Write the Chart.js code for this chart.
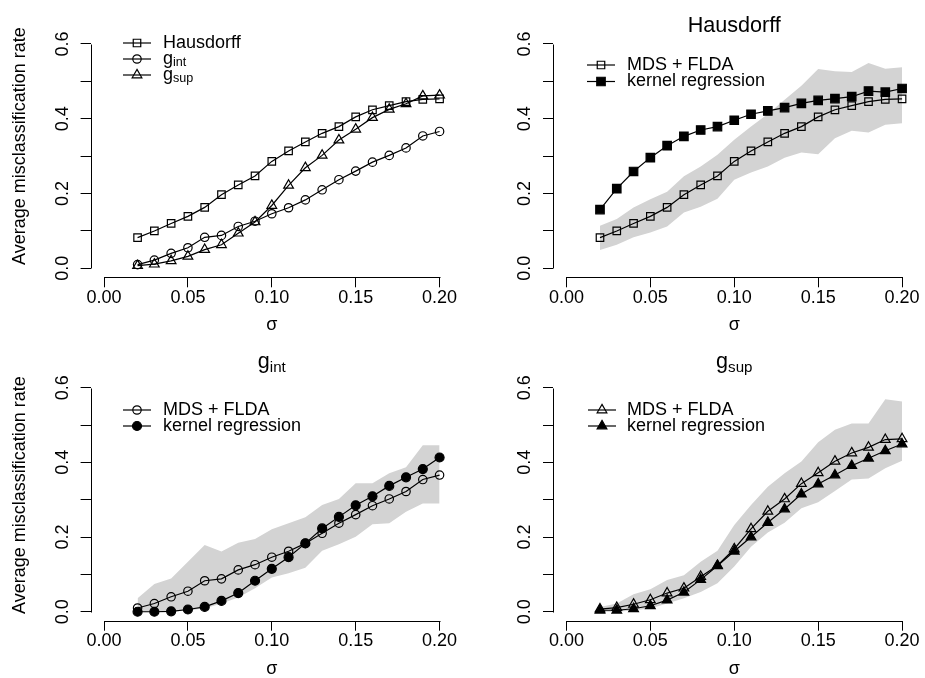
<!DOCTYPE html>
<html>
<head>
<meta charset="utf-8">
<script src="https://cdn.jsdelivr.net/npm/chart.js@4.4.0/dist/chart.umd.min.js"></script>
<style>
  body { margin: 0; background: #fff; }
  #wrap { position: relative; width: 925px; height: 678px; background: #fff; }
  #wrap canvas { position: absolute; }
</style>
</head>
<body>
<div id="wrap">
  <canvas id="p1" width="462" height="339" style="left:0px;top:0px"></canvas>
  <canvas id="p2" width="463" height="339" style="left:462px;top:0px"></canvas>
  <canvas id="p3" width="462" height="339" style="left:0px;top:339px"></canvas>
  <canvas id="p4" width="463" height="339" style="left:462px;top:339px"></canvas>
</div>
<script>
// values
const sigma = [0.02, 0.03, 0.04, 0.05, 0.06, 0.07, 0.08, 0.09, 0.10, 0.11,
               0.12, 0.13, 0.14, 0.15, 0.16, 0.17, 0.18, 0.19, 0.20];

const hausdorffFlda = [0.082, 0.100, 0.120, 0.139, 0.163, 0.197, 0.223, 0.247, 0.286, 0.314,
                       0.338, 0.361, 0.379, 0.405, 0.424, 0.435, 0.446, 0.452, 0.453];
const gIntFlda = [0.010, 0.022, 0.040, 0.055, 0.083, 0.088, 0.112, 0.126, 0.146, 0.162,
                  0.183, 0.210, 0.237, 0.260, 0.284, 0.302, 0.322, 0.354, 0.366];
const gSupFlda = [0.007, 0.011, 0.020, 0.032, 0.050, 0.063, 0.094, 0.124, 0.168, 0.222,
                  0.269, 0.302, 0.343, 0.372, 0.403, 0.425, 0.440, 0.461, 0.463];

const hausdorffKernel = [0.157, 0.213, 0.259, 0.296, 0.328, 0.353, 0.370, 0.379, 0.396, 0.412,
                         0.421, 0.430, 0.441, 0.449, 0.454, 0.459, 0.474, 0.471, 0.481];
const gIntKernel = [0.000, 0.000, 0.001, 0.006, 0.013, 0.029, 0.050, 0.083, 0.115, 0.146,
                    0.183, 0.223, 0.254, 0.285, 0.309, 0.337, 0.360, 0.382, 0.413];
const gSupKernel = [0.004, 0.004, 0.008, 0.016, 0.031, 0.052, 0.086, 0.123, 0.162, 0.200,
                    0.239, 0.275, 0.315, 0.342, 0.366, 0.391, 0.411, 0.431, 0.449];

// grey bands
const hausUpper = [0.114, 0.132, 0.163, 0.185, 0.205, 0.246, 0.272, 0.304, 0.344, 0.379,
                   0.413, 0.451, 0.488, 0.533, 0.527, 0.525, 0.549, 0.534, 0.538];
const hausLower = [0.049, 0.063, 0.083, 0.096, 0.112, 0.149, 0.165, 0.186, 0.237, 0.256,
                   0.272, 0.296, 0.310, 0.305, 0.348, 0.368, 0.363, 0.384, 0.388];
const gIntUpper = [0.036, 0.074, 0.089, 0.134, 0.179, 0.161, 0.185, 0.195, 0.221, 0.237,
                   0.253, 0.286, 0.302, 0.344, 0.344, 0.371, 0.387, 0.446, 0.446];
const gIntLower = [0.000, 0.000, 0.000, 0.003, 0.009, 0.022, 0.038, 0.063, 0.092, 0.103,
                   0.118, 0.163, 0.181, 0.201, 0.234, 0.237, 0.268, 0.290, 0.290];
const gSupUpper = [0.013, 0.022, 0.047, 0.060, 0.085, 0.098, 0.134, 0.163, 0.232, 0.286,
                   0.335, 0.371, 0.402, 0.454, 0.487, 0.504, 0.504, 0.569, 0.563];
const gSupLower = [0.000, 0.000, 0.003, 0.009, 0.022, 0.036, 0.053, 0.076, 0.121, 0.174,
                   0.212, 0.238, 0.277, 0.293, 0.323, 0.354, 0.357, 0.384, 0.404];

const xTicks = [0, 0.05, 0.10, 0.15, 0.20];
const xTickLabels = ['0.00', '0.05', '0.10', '0.15', '0.20'];
const yTicks = [0, 0.1, 0.2, 0.3, 0.4, 0.5, 0.6];
const yTickLabels = ['0.0', '', '0.2', '', '0.4', '', '0.6'];

const yTitle = 'Average misclassification rate';
const xTitle = 'σ';

const FONT = '"Liberation Sans", Arial, Helvetica, sans-serif';
const BAND = '#d3d3d3';

Chart.defaults.font.family = FONT;
Chart.defaults.color = '#000';

const markers = {
  openSquare:   { pointStyle: 'rect', radius: 5.3, filled: false },
  fillSquare:   { pointStyle: 'rect', radius: 6.0, filled: true },
  openCircle:   { pointStyle: 'circle', radius: 4.2, filled: false },
  fillCircle:   { pointStyle: 'circle', radius: 4.5, filled: true },
  openTriangle: { pointStyle: 'triangle', radius: 5.6, filled: false },
  fillTriangle: { pointStyle: 'triangle', radius: 5.6, filled: true }
};

function toPoints(vals) {
  return sigma.map((s, i) => ({ x: s, y: vals[i] }));
}

function lineSet(label, vals, mk) {
  const m = markers[mk];
  return {
    label: label,
    data: toPoints(vals),
    borderColor: '#000',
    borderWidth: 1.2,
    pointStyle: m.pointStyle,
    pointRadius: m.radius,
    pointBorderColor: '#000',
    pointBorderWidth: 1.2,
    pointBackgroundColor: m.filled ? '#000' : 'rgba(0,0,0,0)',
    tension: 0,
    fill: false,
    order: 0,
    mk: mk
  };
}

function bandSets(upper, lower) {
  return [
    { label: 'upper', data: toPoints(upper), borderWidth: 0, borderColor: 'rgba(0,0,0,0)',
      pointRadius: 0, fill: false, order: 5, band: true },
    { label: 'lower', data: toPoints(lower), borderWidth: 0, borderColor: 'rgba(0,0,0,0)',
      pointRadius: 0, fill: '-1', backgroundColor: BAND, order: 5, band: true }
  ];
}

function setFont(ctx, size) {
  ctx.font = size + 'px ' + FONT;
}

// text with an optional subscript, e.g. {base: 'g', sub: 'int'}
function labelWidth(ctx, item, size) {
  if (typeof item === 'string') { setFont(ctx, size); return ctx.measureText(item).width; }
  setFont(ctx, size);
  let w = ctx.measureText(item.base).width;
  setFont(ctx, size * 0.7);
  return w + ctx.measureText(item.sub).width;
}

function drawText(ctx, item, x, y, size) {
  ctx.fillStyle = '#000';
  ctx.textAlign = 'left';
  if (typeof item === 'string') {
    setFont(ctx, size);
    ctx.fillText(item, x, y);
    return;
  }
  setFont(ctx, size);
  ctx.fillText(item.base, x, y);
  const w = ctx.measureText(item.base).width;
  setFont(ctx, size * 0.7);
  ctx.fillText(item.sub, x + w, y + size * 0.2);
}

const decor = {
  id: 'decor',
  afterDraw(chart) {
    const p = chart.options.plugins.decor;
    const ctx = chart.ctx;
    const xs = chart.scales.x, ys = chart.scales.y, a = chart.chartArea;
    ctx.save();
    ctx.strokeStyle = '#000';
    ctx.lineWidth = 1;

    // axis lines from first to last tick, as R does without a box
    const yb = Math.round(a.bottom) + 0.5;
    ctx.beginPath();
    ctx.moveTo(Math.round(xs.getPixelForValue(xTicks[0])) + 0.5, yb);
    ctx.lineTo(Math.round(xs.getPixelForValue(xTicks[xTicks.length - 1])) + 0.5, yb);
    ctx.stroke();
    const xl = Math.round(a.left) + 0.5;
    ctx.beginPath();
    ctx.moveTo(xl, Math.round(ys.getPixelForValue(yTicks[0])) + 0.5);
    ctx.lineTo(xl, Math.round(ys.getPixelForValue(yTicks[yTicks.length - 1])) + 0.5);
    ctx.stroke();

    // rotated y tick labels
    ctx.fillStyle = '#000';
    setFont(ctx, 18);
    ctx.textAlign = 'center';
    ctx.textBaseline = 'middle';
    yTicks.forEach((v, i) => {
      if (!yTickLabels[i]) return;
      ctx.save();
      ctx.translate(a.left - 28, ys.getPixelForValue(v));
      ctx.rotate(-Math.PI / 2);
      ctx.fillText(yTickLabels[i], 0, 0);
      ctx.restore();
    });

    // x title
    ctx.textAlign = 'center';
    ctx.fillText(xTitle, (a.left + a.right) / 2, a.bottom + 48);

    // y title
    if (p.yTitleY) {
      ctx.save();
      ctx.translate(20, p.yTitleY);
      ctx.rotate(-Math.PI / 2);
      ctx.textAlign = 'center';
      ctx.fillText(yTitle, 0, 0);
      ctx.restore();
    }

    // main title
    if (p.title) {
      ctx.textBaseline = 'alphabetic';
      const w = labelWidth(ctx, p.title, 21.6);
      drawText(ctx, p.title, (a.left + a.right) / 2 - w / 2, p.titleY, 21.6);
    }

    // legend: line through symbol, then text
    const sets = chart.data.datasets.filter(d => !d.band);
    sets.forEach((d, i) => {
      const y = p.legendY[i];
      const x = p.legendX;
      const m = markers[d.mk];
      ctx.strokeStyle = '#000';
      ctx.lineWidth = 1.2;
      ctx.beginPath();
      ctx.moveTo(x - 14, y);
      ctx.lineTo(x + 14, y);
      ctx.stroke();
      ctx.fillStyle = m.filled ? '#000' : 'rgba(0,0,0,0)';
      Chart.helpers.drawPoint(ctx, {
        pointStyle: m.pointStyle, radius: m.radius, rotation: 0, borderWidth: 1.2
      }, x, y);
      ctx.textBaseline = 'middle';
      drawText(ctx, p.legendText[i], p.legendTextX, y, 18);
    });
    ctx.restore();
  }
};

function makePanel(id, datasets, lay) {
  const canvas = document.getElementById(id);
  const W = canvas.width, H = canvas.height;
  return new Chart(canvas, {
    type: 'line',
    data: { datasets: datasets },
    options: {
      responsive: false,
      animation: false,
      layout: { padding: { left: 0, top: lay.area.top, right: W - lay.area.right, bottom: 0 } },
      scales: {
        x: {
          type: 'linear',
          min: -0.008,
          max: 0.208,
          afterBuildTicks: s => { s.ticks = xTicks.map(v => ({ value: v })); },
          afterFit: s => { s.height = H - lay.area.bottom; s.paddingLeft = 0; s.paddingRight = 0; },
          grid: { display: true, drawOnChartArea: false, drawTicks: true, tickLength: 10, color: '#000', lineWidth: 1 },
          border: { display: false },
          ticks: {
            autoSkip: false, maxRotation: 0, minRotation: 0, padding: 0,
            font: { size: 18 }, color: '#000',
            callback: (v, i) => xTickLabels[i]
          }
        },
        y: {
          type: 'linear',
          min: -0.024,
          max: 0.624,
          afterBuildTicks: s => { s.ticks = yTicks.map(v => ({ value: v })); },
          afterFit: s => { s.width = lay.area.left; s.paddingTop = 0; s.paddingBottom = 0; },
          grid: { display: true, drawOnChartArea: false, drawTicks: true, tickLength: 10, color: '#000', lineWidth: 1 },
          border: { display: false },
          ticks: { display: false }
        }
      },
      plugins: {
        legend: { display: false },
        tooltip: { enabled: false },
        filler: { propagate: false },
        decor: lay
      }
    },
    plugins: [decor]
  });
}

const topArea = { left: 90.6, right: 453, top: 35, bottom: 277.3 };
const topAreaR = { left: 91, right: 453.5, top: 35, bottom: 277.3 };
const botArea = { left: 90.6, right: 453, top: 39.7, bottom: 281.7 };
const botAreaR = { left: 91, right: 453.5, top: 39.7, bottom: 281.7 };

makePanel('p1', [
  lineSet('Hausdorff', hausdorffFlda, 'openSquare'),
  lineSet('g_int', gIntFlda, 'openCircle'),
  lineSet('g_sup', gSupFlda, 'openTriangle')
], {
  area: topArea, yTitleY: 146, title: null,
  legendX: 137, legendTextX: 163, legendY: [43, 59, 75],
  legendText: ['Hausdorff', { base: 'g', sub: 'int' }, { base: 'g', sub: 'sup' }]
});

makePanel('p2', [
  lineSet('MDS + FLDA', hausdorffFlda, 'openSquare'),
  lineSet('kernel regression', hausdorffKernel, 'fillSquare')
].concat(bandSets(hausUpper, hausLower)), {
  area: topAreaR, yTitleY: null, title: 'Hausdorff', titleY: 32,
  legendX: 139, legendTextX: 165, legendY: [65, 81.5],
  legendText: ['MDS + FLDA', 'kernel regression']
});

makePanel('p3', [
  lineSet('MDS + FLDA', gIntFlda, 'openCircle'),
  lineSet('kernel regression', gIntKernel, 'fillCircle')
].concat(bandSets(gIntUpper, gIntLower)), {
  area: botArea, yTitleY: 156, title: { base: 'g', sub: 'int' }, titleY: 29,
  legendX: 137, legendTextX: 163, legendY: [71, 87],
  legendText: ['MDS + FLDA', 'kernel regression']
});

makePanel('p4', [
  lineSet('MDS + FLDA', gSupFlda, 'openTriangle'),
  lineSet('kernel regression', gSupKernel, 'fillTriangle')
].concat(bandSets(gSupUpper, gSupLower)), {
  area: botAreaR, yTitleY: null, title: { base: 'g', sub: 'sup' }, titleY: 29,
  legendX: 140, legendTextX: 165, legendY: [71, 87],
  legendText: ['MDS + FLDA', 'kernel regression']
});
</script>
</body>
</html>
